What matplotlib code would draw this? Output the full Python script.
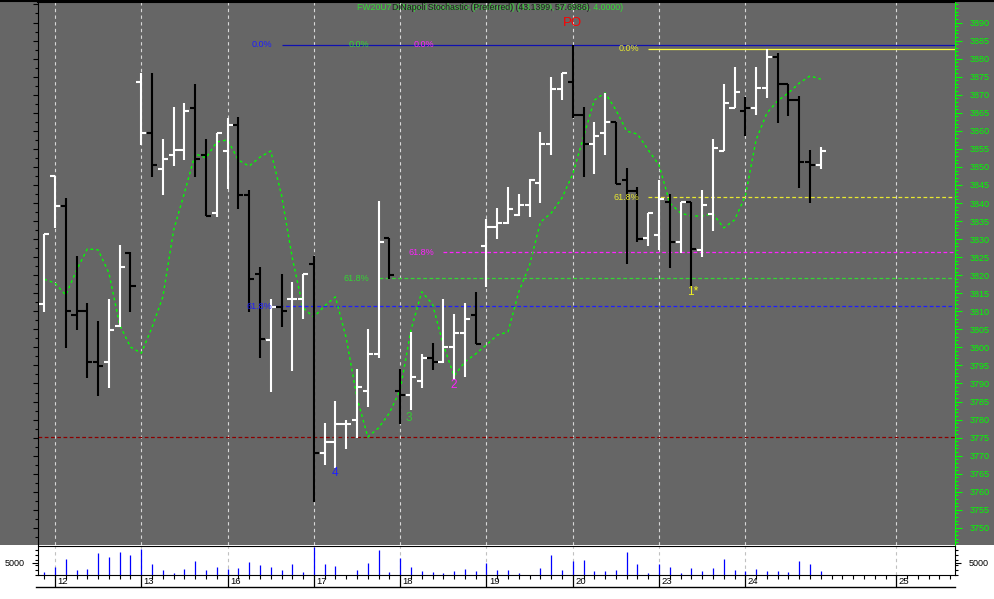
import matplotlib
matplotlib.use("Agg")
import matplotlib.pyplot as plt
from matplotlib.lines import Line2D
from matplotlib.patches import Rectangle
from matplotlib.ticker import MultipleLocator, FixedLocator, FormatStrFormatter
import numpy as np

plt.rcParams['font.family'] = ['Liberation Sans', 'DejaVu Sans']

# ---- data (3 hour bars, FW20U7) ----
opens = [3812.1, 3847.6, 3839.3, 3809.0, 3810.2, 3796.0, 3796.0, 3806.0, 3826.2, 3873.6,
         3859.5, 3849.5, 3853.4, 3854.6, 3866.4, 3853.4, 3837.3, 3854.5, 3861.6, 3842.3,
         3820.3, 3802.0, 3811.3, 3813.3, 3813.3, 3823.1, 3770.8, 3773.9, 3778.8, 3779.9,
         3788.0, 3798.1, 3830.2, 3787.9, 3786.8, 3790.8, 3797.1, 3796.0, 3800.2, 3804.1,
         3809.0, 3828.2, 3833.4, 3834.4, 3836.6, 3839.4, 3845.5, 3856.3, 3871.7, 3873.5,
         3864.4, 3856.3, 3859.5, 3862.5, 3846.5, 3843.3, 3830.2, 3831.2, 3840.4, 3829.2,
         3840.4, 3827.0, 3837.0, 3854.4, 3866.4, 3865.5, 3866.4, 3871.8, 3880.5, 3872.9,
         3868.5, 3851.3, 3850.5]
highs = [3831.3, 3847.6, 3841.3, 3825.4, 3812.2, 3807.3, 3813.4, 3828.4, 3826.3, 3875.9,
         3875.9, 3857.6, 3866.6, 3867.7, 3872.9, 3857.6, 3859.5, 3863.6, 3863.7, 3843.6,
         3822.4, 3813.4, 3820.3, 3818.2, 3820.3, 3825.3, 3779.0, 3785.1, 3779.9, 3793.9,
         3805.0, 3840.6, 3830.2, 3794.0, 3804.2, 3798.2, 3801.1, 3813.3, 3809.2, 3812.2,
         3815.3, 3835.6, 3838.5, 3844.4, 3842.5, 3846.6, 3859.7, 3874.8, 3875.9, 3883.8,
         3866.5, 3862.5, 3870.6, 3862.5, 3849.6, 3844.4, 3837.3, 3846.5, 3842.4, 3840.4,
         3840.4, 3843.5, 3857.7, 3873.0, 3877.7, 3869.4, 3877.7, 3882.7, 3881.6, 3872.9,
         3869.6, 3854.7, 3855.4]
lows = [3809.9, 3833.2, 3799.9, 3804.7, 3791.6, 3786.6, 3788.8, 3805.7, 3809.9, 3856.1,
        3847.3, 3842.1, 3850.3, 3852.0, 3847.3, 3836.5, 3836.2, 3843.8, 3838.3, 3809.9,
        3797.0, 3787.7, 3805.7, 3793.5, 3807.8, 3757.3, 3767.4, 3766.5, 3771.8, 3774.8,
        3783.6, 3797.0, 3819.0, 3778.7, 3782.7, 3788.8, 3793.7, 3795.8, 3791.0, 3791.9,
        3800.9, 3816.8, 3830.0, 3834.2, 3836.4, 3836.2, 3840.1, 3853.2, 3868.5, 3863.5,
        3847.3, 3848.0, 3853.2, 3845.3, 3823.0, 3829.1, 3828.1, 3827.0, 3822.1, 3826.1,
        3816.4, 3825.1, 3832.2, 3854.4, 3866.2, 3858.6, 3864.4, 3869.0, 3862.2, 3864.2,
        3844.1, 3840.1, 3849.3]
closes = [3831.3, 3839.3, 3810.2, 3810.0, 3796.0, 3794.9, 3804.9, 3822.3, 3817.1, 3859.5,
          3850.5, 3852.3, 3854.6, 3865.5, 3852.3, 3836.5, 3859.5, 3861.7, 3842.3, 3819.0,
          3802.2, 3811.3, 3810.1, 3813.3, 3820.3, 3770.8, 3773.9, 3778.8, 3778.8, 3789.1,
          3798.1, 3829.3, 3820.1, 3786.8, 3791.9, 3797.0, 3796.0, 3800.2, 3804.1, 3808.0,
          3800.9, 3833.4, 3834.4, 3838.4, 3839.4, 3846.4, 3856.3, 3871.7, 3875.9, 3864.4,
          3856.3, 3858.6, 3862.5, 3845.3, 3843.3, 3830.0, 3837.3, 3841.2, 3829.2, 3840.4,
          3827.3, 3839.4, 3855.3, 3867.7, 3870.7, 3866.4, 3871.8, 3880.5, 3872.9, 3868.5,
          3851.3, 3850.5, 3854.5]
volume = [1200, 3250, 6500, 2000, 2400, 8900, 7300, 9350, 8100, 10600,
          4500, 2000, 800, 2400, 5700, 2000, 3250, 2400, 2850, 5300,
          4050, 3250, 2000, 4500, 1200, 11400, 4500, 3650, 0, 2000,
          4900, 10200, 1200, 6900, 3250, 1600, 1200, 800, 1600, 2400,
          1600, 4900, 2000, 2000, 800, 0, 2850, 8100, 2000, 5700,
          6100, 1600, 1600, 2000, 9350, 4500, 800, 4500, 3250, 800,
          2850, 1600, 2850, 6500, 2000, 1600, 2400, 1600, 1600, 1200,
          5700, 4500, 1600]
# DiNapoli stochastic overlay, in price units
stoch = [3818.9, 3817.8, 3814.5, 3821.4, 3827.3, 3827.0, 3820.6, 3806.2, 3800.1, 3798.4,
         3805.6, 3814.0, 3832.5, 3842.8, 3853.6, 3852.5, 3856.9, 3857.5, 3851.9, 3850.2,
         3852.7, 3854.4, 3842.2, 3824.8, 3810.9, 3808.4, 3811.5, 3814.0, 3802.6, 3786.0,
         3775.2, 3777.7, 3781.8, 3788.2, 3804.8, 3815.4, 3812.0, 3800.7, 3792.1, 3796.0,
         3798.2, 3800.7, 3803.4, 3804.3, 3815.4, 3822.8, 3834.7, 3837.2, 3841.4, 3848.0,
         3858.3, 3868.5, 3870.5, 3865.8, 3859.9, 3859.1, 3854.7, 3850.5, 3840.0, 3837.2,
         3836.4, 3836.4, 3837.0, 3833.1, 3835.3, 3841.9, 3857.5, 3864.9, 3868.3, 3870.5,
         3873.2, 3875.2, 3874.3]

day_labels = ['12', '13', '16', '17', '18', '19', '20', '23', '24', '25']
day_index = [1, 9, 17, 25, 33, 41, 49, 57, 65, 79]

# fibonacci levels: colour, 0.0% level, 61.8% level, start bar
fib_colors = ['#1e1eff', '#33d633', '#ff22ff', '#e8e830']
fib_zero = [3883.8, 3883.8, 3883.8, 3882.7]
fib_618 = [3811.4, 3819.1, 3826.3, 3841.6]
fib_start = [22, 31, 37, 56]
support_level = 3775.2

waves = ['4', '3', '2', '1*']
wave_index = [27.0, 33.8, 38.0, 60.1]
wave_price = [3765.3, 3780.5, 3789.6, 3815.3]
wave_colors = ['#2020ff', '#33cc33', '#ff20ff', '#f0f020']

# ---- layout in pixels ----
W, H = 994, 599
def fx(px):
    return px / W
def fy(py):
    return 1 - py / H

x = np.arange(len(opens))
o, h, l, c = map(np.array, (opens, highs, lows, closes))
prev = np.r_[o[0], c[:-1]]
bar_col = np.where(c >= prev, 'white', 'black')
xlim = (-0.575, 84.44)

fig = plt.figure(figsize=(9.94, 5.99), dpi=100, facecolor='white')
fig.patches.append(Rectangle((0, fy(545)), 1, 545 / H, transform=fig.transFigure,
                             facecolor='#666666', edgecolor='none', zorder=-10))

ax = fig.add_axes([fx(38), fy(545), fx(955) - fx(38), fy(1.5) - fy(545)])
ax.set_facecolor('#666666')
ax.set_xlim(*xlim)
ax.set_ylim(3745.26, 3895.82)

# day separators
ax.set_xticks(day_index)
ax.tick_params(axis='x', bottom=False, labelbottom=False)
ax.grid(axis='x', color='#d8d8d8', ls=(0, (3, 3)), lw=0.8)
ax.set_axisbelow(True)

# fib lines and labels
for col, z, f, s in zip(fib_colors, fib_zero, fib_618, fib_start):
    ax.hlines(f, s if s != 22 else 21.2, xlim[1], color=col, lw=0.9, ls=(0, (3, 2)), zorder=2)
    ax.text(s - 0.87, z, '0.0%', color=col, fontsize=6.5, ha='right', va='center', zorder=5)
    ax.text(s - 0.87, f, '61.8%', color=col, fontsize=6.5, ha='right', va='center', zorder=5)
ax.hlines(fib_zero[3], fib_start[3], xlim[1], color='#ffff40', lw=0.9, zorder=2)
ax.hlines(fib_zero[0], fib_start[0], xlim[1], color='#1010b0', lw=0.9, zorder=2)
ax.hlines(support_level, xlim[0], xlim[1], color='#8b0000', lw=0.9, ls=(0, (3, 2)), zorder=2)

# stochastic overlay
ax.plot(x, stoch, color='#00ff00', lw=1.0, ls=(0, (2, 2.2)), zorder=3)

# OHLC bars
ax.vlines(x, l, h, colors=bar_col, lw=1.5, zorder=4)
ax.hlines(o, x - 0.47, x, colors=bar_col, lw=1.5, zorder=4)
ax.hlines(c, x, x + 0.47, colors=bar_col, lw=1.5, zorder=4)

for t, xi, yi, col in zip(waves, wave_index, wave_price, wave_colors):
    ax.text(xi, yi, t, color=col, fontsize=8.5, ha='center', va='center', zorder=6)
ax.text(49, 3889.9, 'PO', color='#ff0000', fontsize=9.5, ha='center', va='center', zorder=6)

# left axis (black ticks, no labels)
ax.yaxis.set_major_locator(MultipleLocator(5))
ax.yaxis.set_minor_locator(MultipleLocator(2.5))
ax.tick_params(axis='y', which='major', left=True, labelleft=False, length=3.4, width=0.8, color='black')
ax.tick_params(axis='y', which='minor', left=True, length=2.2, width=0.8, color='black')
for sp in ('right', 'bottom'):
    ax.spines[sp].set_visible(False)
ax.spines['left'].set_color('black')
ax.spines['top'].set_color('black')
ax.spines['top'].set_linewidth(1.5)

# right axis (green)
axr = ax.twinx()
axr.set_ylim(ax.get_ylim())
axr.yaxis.set_major_locator(FixedLocator(np.arange(3750, 3891, 5)))
axr.yaxis.set_minor_locator(MultipleLocator(1))
axr.yaxis.set_major_formatter(FormatStrFormatter('%d'))
axr.tick_params(axis='y', which='major', length=4.8, width=0.8, colors='#00ff00',
                labelsize=6.5, pad=5.5)
axr.tick_params(axis='y', which='minor', length=2.2, width=0.8, colors='#00ff00')
for sp in ('left', 'top', 'bottom'):
    axr.spines[sp].set_visible(False)
axr.spines['right'].set_color('#00ff00')

fig.text(fx(357), fy(8), 'FW20U7 DiNapoli Stochastic (Preferred) (43.1399, 57.6986, 4.0000)',
         color='#33dd33', fontsize=6.3, ha='left', va='center')
fig.text(fx(392), fy(8), 'DiNapoli Stochastic (Preferred) (43.1399, 57.6986)',
         color='#202020', fontsize=6.3, ha='left', va='center')

# ---- volume panel ----
axv = fig.add_axes([fx(38), fy(575), fx(955) - fx(38), fy(546) - fy(575)])
axv.set_facecolor('white')
axv.set_xlim(*xlim)
axv.set_ylim(0, 11790)
axv.vlines(x, 0, volume, color='#0000ff', lw=0.9)
axv.set_xticks(day_index)
axv.xaxis.set_minor_locator(MultipleLocator(1))
axv.grid(axis='x', which='major', color='#c0c0c0', ls=(0, (3, 3)), lw=0.8)
axv.set_axisbelow(True)
axv.tick_params(axis='x', which='major', length=8.6, width=0.9, color='black', labelbottom=False)
axv.tick_params(axis='x', which='minor', length=2.9, width=0.8, color='black')
axv.set_yticks([5000])
axv.yaxis.set_minor_locator(MultipleLocator(2000))
axv.tick_params(axis='y', which='major', left=True, right=True, labelleft=True, labelright=True,
                length=4.3, width=0.8, labelsize=6.5, pad=5.5, colors='black')
axv.tick_params(axis='y', which='minor', left=True, right=True, length=2.2, width=0.8)
for sp in axv.spines.values():
    sp.set_color('black')

for d, lab in zip(day_index, day_labels):
    axv.text(d + 0.22, -0.24, lab, transform=axv.get_xaxis_transform(),
             fontsize=6.8, ha='left', va='center', color='black')

fig.add_artist(Line2D([fx(36), fx(955)], [fy(587), fy(587)], color='black', lw=1.0))
fig.add_artist(Line2D([0, 1], [fy(0.5), fy(0.5)], color='black', lw=1.5))

fig.savefig('out.png', dpi=100, facecolor=fig.get_facecolor())
